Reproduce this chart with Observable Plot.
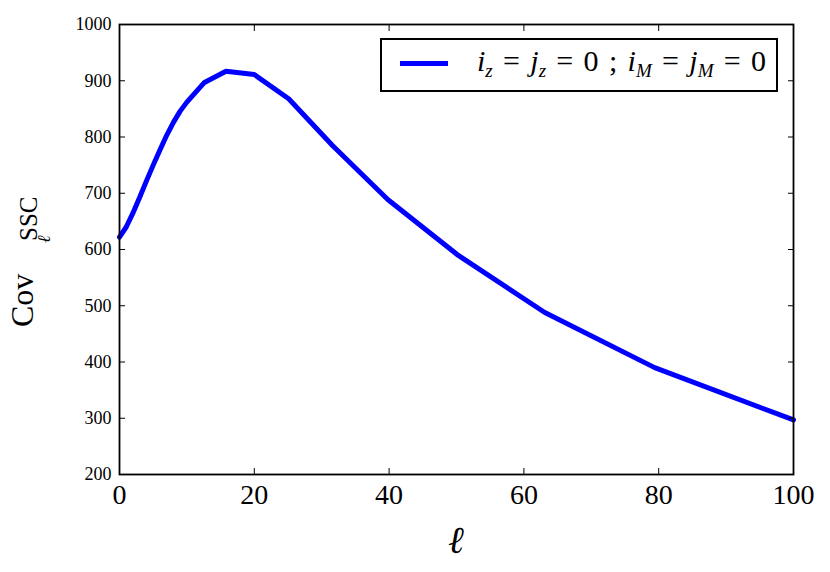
<!DOCTYPE html>
<html>
<head>
<meta charset="utf-8">
<script src="https://cdn.jsdelivr.net/npm/d3@7"></script>
<script src="https://cdn.jsdelivr.net/npm/@observablehq/plot@0.6"></script>
<style>
  html, body { margin: 0; padding: 0; background: white; }
  #wrap { position: relative; width: 830px; height: 572px; font-family: "Liberation Serif", "DejaVu Serif", serif; }
  #legend { position: absolute; left: 380px; top: 38px; width: 394px; height: 50px; border: 2px solid black; background: white; box-sizing: content-box; }
  #legend .sample { position: absolute; left: 18px; top: 21px; width: 48px; height: 5px; background: #0000ff; }
  #legend .txt { position: absolute; left: 95px; top: 4px; font-size: 30px; white-space: nowrap; font-family: "Liberation Serif", serif; color: black; }
  #legend i { font-family: "Liberation Serif", serif; }
  #legend sub { font-size: 19px; vertical-align: -6px; font-style: italic; font-family: "Liberation Serif", serif; }
  #legend .sp { display: inline-block; }
</style>
</head>
<body>
<div id="wrap"></div>
<script>
const ell = [0, 1, 2, 3, 4, 5, 6, 7, 8, 9, 10, 12.6, 15.8, 20, 25.1, 31.6, 39.8, 50.1, 63.1, 79.4, 100];
const cov = [622, 640, 665, 693, 722, 750, 777, 803, 826, 846, 862, 897, 917, 911, 868, 785, 689, 591, 488, 390, 297];
const xTicks = [0, 20, 40, 60, 80, 100];
const yTicks = [200, 300, 400, 500, 600, 700, 800, 900, 1000];

const data = ell.map((e, i) => ({ell: e, cov: cov[i]}));

const chart = Plot.plot({
  width: 830, height: 572,
  marginLeft: 119, marginRight: 37, marginTop: 24, marginBottom: 98,
  x: {domain: [0, 100]},
  y: {domain: [200, 1000]},
  style: {fontFamily: "Liberation Serif, DejaVu Serif, serif", background: "white", color: "black"},
  marks: [
    Plot.line(data, {x: "ell", y: "cov", stroke: "#0000ff", strokeWidth: 5, strokeLinejoin: "round"}),
    Plot.axisX(xTicks, {tickSize: 0, fontSize: 28, tickPadding: 10, tickFormat: d => String(d), label: null}),
    Plot.axisX(xTicks, {tickSize: -6, text: null, label: null}),
    Plot.axisX(xTicks, {anchor: "top", tickSize: -6, text: null, label: null}),
    Plot.axisY(yTicks, {tickSize: 0, fontSize: 18, tickPadding: 8, tickFormat: d => String(d), label: null}),
    Plot.axisY(yTicks, {tickSize: -6, text: null, label: null}),
    Plot.axisY(yTicks, {anchor: "right", tickSize: -6, text: null, label: null}),
    Plot.frame({stroke: "black", strokeWidth: 1.8})
  ]
});

const wrap = document.getElementById("wrap");
wrap.appendChild(chart);

// y label: Cov_ℓ^SSC (rotated)
const svg = d3.select(chart);
const g = svg.append("g").attr("transform", "rotate(-90)")
  .style("fill", "black").style("text-anchor", "start");
g.append("text").attr("x", -327).attr("y", 33)
  .style("font-size", "32px").style("font-family", "Liberation Serif, serif").style("text-anchor", "start")
  .text("Cov");
g.append("text").attr("x", -241).attr("y", 37)
  .style("font-size", "25px").style("font-family", "Liberation Serif, serif").style("text-anchor", "start")
  .text("SSC");
g.append("text").attr("x", -243).attr("y", 50)
  .style("font-size", "18px").style("font-family", "DejaVu Serif, serif").style("font-style", "italic").style("text-anchor", "start")
  .text("\u2113");

// x label: ℓ
svg.append("text").attr("x", 456).attr("y", 553)
  .style("text-anchor", "middle").style("font-size", "38px")
  .style("font-family", "DejaVu Serif, serif").style("font-style", "italic")
  .style("fill", "black").text("\u2113");

const legend = document.createElement("div");
legend.id = "legend";
legend.innerHTML = '<div class="sample"></div><div class="txt"><i>i</i><sub>z</sub><span class="sp"></span>=<span class="sp"></span><i>j</i><sub>z</sub><span class="sp"></span>=<span class="sp"></span>0<span class="sp"></span>;<span class="sp"></span><i>i</i><sub>M</sub><span class="sp"></span>=<span class="sp"></span><i>j</i><sub>M</sub><span class="sp"></span>=<span class="sp"></span>0</div>';
wrap.appendChild(legend);

// fit legend text to the reference's text width (about 289px)
const txt = legend.querySelector(".txt");
const sps = legend.querySelectorAll(".sp");
const w0 = txt.getBoundingClientRect().width;
const gap = Math.max(0, (289 - w0) / sps.length);
sps.forEach(s => { s.style.width = gap + "px"; });
</script>
</body>
</html>
